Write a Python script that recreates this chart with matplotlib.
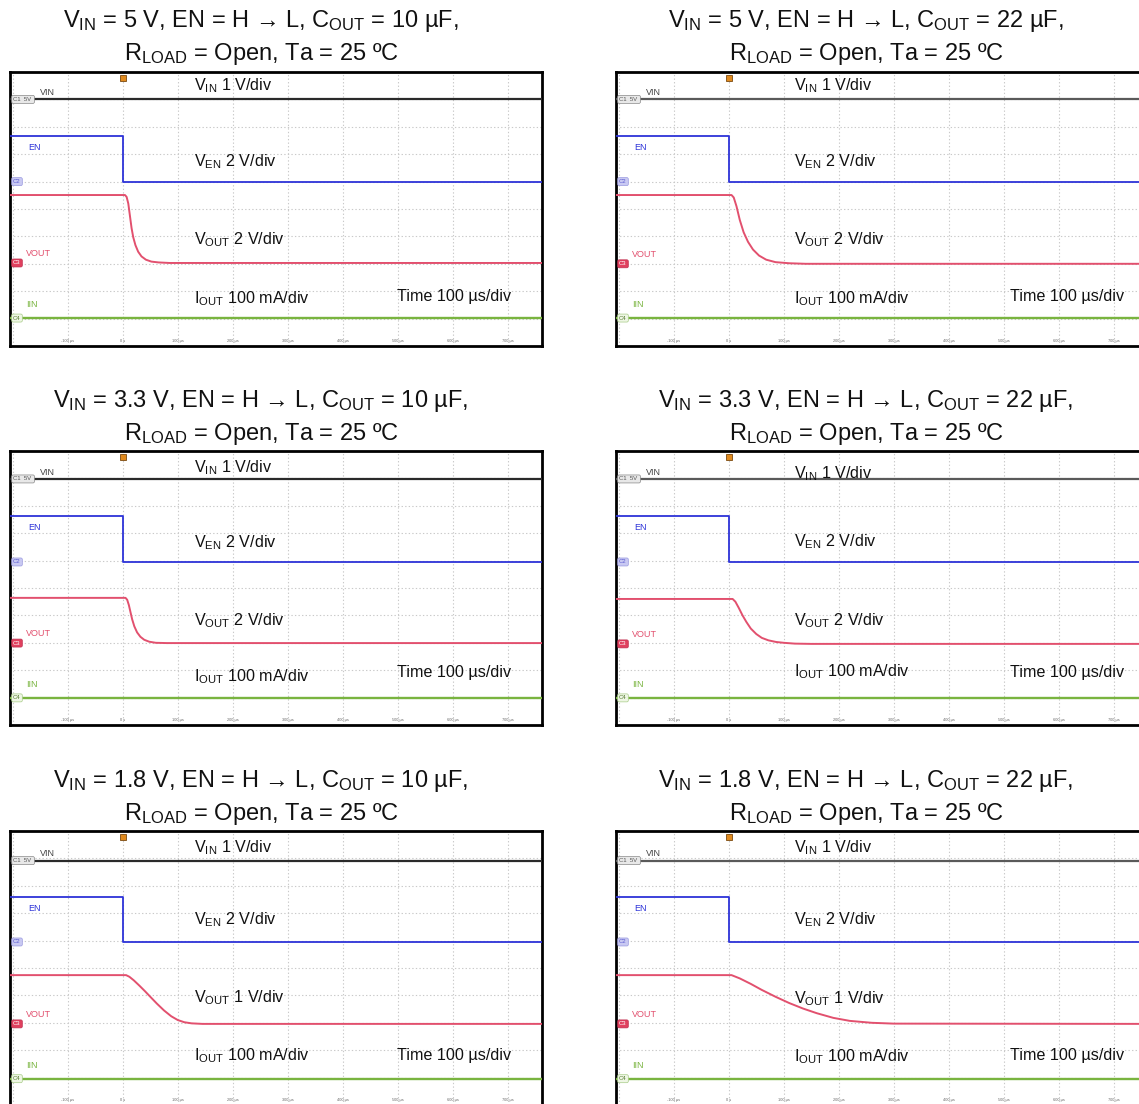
import matplotlib
matplotlib.use("Agg")
import matplotlib.pyplot as plt
import numpy as np

plt.rcParams['font.family'] = ['Liberation Sans', 'DejaVu Sans']
plt.rcParams['mathtext.fontset'] = 'custom'
plt.rcParams['mathtext.rm'] = 'Liberation Sans'
plt.rcParams['mathtext.it'] = 'Liberation Sans'

# ---------------- data (time in µs, level in scope divisions) ----------------
vin_labels = ["5 V", "3.3 V", "1.8 V"]
cout_labels = ["10 µF", "22 µF"]
vout_scale = ["2 V/div", "2 V/div", "1 V/div"]

vin_level = [9.0, 8.98, 8.92]
en_high = [7.66, 7.63, 7.59]
en_low = [6.0, 5.95, 5.95]
iin_level = [1.02, 0.99, 0.96]

t_r1_10 = [-205, 4, 7, 10, 13, 16, 19, 23, 28, 34, 42, 52, 65, 85, 110, 765]
v_r1_10 = [5.51, 5.51, 5.44, 5.2, 4.75, 4.3, 3.97, 3.68, 3.44, 3.27, 3.15, 3.08, 3.05, 3.03, 3.03, 3.03]
t_r1_22 = [-205, 5, 9, 14, 20, 27, 35, 44, 55, 68, 85, 110, 140, 765]
v_r1_22 = [5.51, 5.51, 5.42, 5.1, 4.6, 4.15, 3.8, 3.52, 3.3, 3.15, 3.06, 3.02, 3.0, 3.0]
t_r2_10 = [-205, 5, 8, 11, 14, 17, 21, 26, 32, 39, 48, 60, 80, 765]
v_r2_10 = [4.64, 4.64, 4.57, 4.38, 4.12, 3.86, 3.6, 3.38, 3.22, 3.11, 3.04, 3.0, 2.99, 2.99]
t_r2_22 = [-205, 7, 12, 18, 25, 32, 40, 50, 60, 72, 86, 100, 120, 150, 765]
v_r2_22 = [4.60, 4.60, 4.5, 4.28, 4.0, 3.76, 3.52, 3.32, 3.18, 3.09, 3.03, 3.0, 2.97, 2.96, 2.96]
t_r3_10 = [-205, 6, 12, 20, 30, 40, 50, 62, 75, 88, 100, 112, 125, 145, 170, 765]
v_r3_10 = [4.74, 4.74, 4.68, 4.55, 4.36, 4.16, 3.95, 3.7, 3.45, 3.24, 3.1, 3.02, 2.98, 2.96, 2.96, 2.96]
t_r3_22 = [-205, 5, 20, 40, 60, 85, 110, 135, 160, 190, 220, 260, 300, 765]
v_r3_22 = [4.74, 4.74, 4.62, 4.42, 4.2, 3.95, 3.72, 3.52, 3.35, 3.18, 3.07, 3.0, 2.97, 2.96]

vout_t = [[t_r1_10, t_r1_22], [t_r2_10, t_r2_22], [t_r3_10, t_r3_22]]
vout_v = [[v_r1_10, v_r1_22], [v_r2_10, v_r2_22], [v_r3_10, v_r3_22]]

time_ticks = [-100, 0, 100, 200, 300, 400, 500, 600, 700]
time_tick_labels = ["-100 µs", "0 s", "100 µs", "200 µs", "300 µs", "400 µs", "500 µs", "600 µs", "700 µs"]

T_START, T_END = -205, 762

# ---------------- layout ----------------
W, H = 1139, 1104
fig = plt.figure(figsize=(W / 100, H / 100), dpi=100)
fig.patch.set_facecolor('white')

col_left = [10, 616]
row_top = [72, 451, 831]
pw, ph = 532, 274
title_cx = [261, 866]
title_y = [(21, 54), (401, 434), (781, 814)]

# text label vertical positions (axes fraction) per row / column
lbl_vin_y = [[0.949, 0.949], [0.938, 0.916], [0.938, 0.938]]
lbl_ven_y = [[0.672, 0.672], [0.664, 0.668], [0.675, 0.675]]
lbl_vout_y = [[0.387, 0.387], [0.380, 0.380], [0.390, 0.387]]
lbl_iout_y = [[0.172, 0.172], [0.175, 0.193], [0.179, 0.175]]
lbl_time_y = [[0.182, 0.182], [0.190, 0.193], [0.182, 0.182]]
lbl_x = [0.346, 0.335]
time_x = [0.727, 0.741]

C_VIN = ['#2a2a2a', '#5a5a5a']
C_EN = '#2d33d8'
C_OUT = '#e2506e'
C_IIN = '#79b43f'

for r in range(3):
    for c in range(2):
        x0 = col_left[c]
        y0 = row_top[r]
        ax = fig.add_axes([x0 / W, 1 - (y0 + ph) / H, pw / W, ph / H])
        ax.set_xlim(T_START, T_END)
        ax.set_ylim(0, 10)
        ax.set_xticks(np.arange(-200, 800, 100))
        ax.set_yticks(np.arange(0, 11, 1))
        ax.tick_params(length=0, labelbottom=False, labelleft=False)
        ax.grid(True, color='#c9c9c9', linestyle=(0, (1.2, 2.0)), linewidth=0.8)
        for s in ax.spines.values():
            s.set_linewidth(2.0)
            s.set_color('black')

        # traces
        ax.plot([T_START, T_END], [vin_level[r], vin_level[r]], color=C_VIN[c], lw=1.6, zorder=3)
        ax.plot([T_START, 0, 0, T_END], [en_high[r], en_high[r], en_low[r], en_low[r]],
                color=C_EN, lw=1.3, zorder=3)
        ax.plot(vout_t[r][c], vout_v[r][c], color=C_OUT, lw=1.4, zorder=3)
        ax.plot([T_START, T_END], [iin_level[r], iin_level[r]], color=C_IIN, lw=1.7, zorder=3)

        # trigger marker
        ax.plot([0], [9.78], marker='s', ms=4.5, color='#e08a1e', mec='#7a4a10', mew=0.6,
                clip_on=False, zorder=5)

        # channel tags
        tag_kw = dict(fontsize=4.3, va='center', ha='left', zorder=6)
        ax.text(0.006, vin_level[r] / 10, "C1  5V ", color='#555555',
                transform=ax.transAxes,
                bbox=dict(boxstyle='round,pad=0.25', fc='#e8e8e8', ec='#888888', lw=0.5), **tag_kw)
        ax.text(0.006, en_low[r] / 10, "C2", color='#5a5ad0', transform=ax.transAxes,
                bbox=dict(boxstyle='round,pad=0.25', fc='#c9c9f2', ec='#9a9ae0', lw=0.5), **tag_kw)
        ax.text(0.006, vout_v[r][c][-1] / 10, "C3", color='white', transform=ax.transAxes,
                bbox=dict(boxstyle='round,pad=0.25', fc='#e0405e', ec='#c03050', lw=0.5), **tag_kw)
        ax.text(0.006, iin_level[r] / 10, "C4", color='#557a30', transform=ax.transAxes,
                bbox=dict(boxstyle='round,pad=0.25', fc='#eef6e4', ec='#a8cc88', lw=0.5), **tag_kw)

        # channel names
        nkw = dict(fontsize=6.5, ha='left', va='center', transform=ax.transAxes, zorder=6)
        ax.text(0.056, vin_level[r] / 10 + 0.025, "VIN", color='#444444', **nkw)
        ax.text(0.034, en_high[r] / 10 - 0.042, "EN", color=C_EN, **nkw)
        ax.text(0.030, vout_v[r][c][-1] / 10 + 0.034, "VOUT", color=C_OUT, **nkw)
        ax.text(0.030, iin_level[r] / 10 + 0.048, "IIN", color=C_IIN, **nkw)

        # time tick labels
        for tt, tl in zip(time_ticks, time_tick_labels):
            ax.text(tt, 0.12, tl, fontsize=2.8, color='#666666', ha='center', va='bottom', zorder=6)

        # annotations
        akw = dict(fontsize=11.6, ha='left', va='center', transform=ax.transAxes, zorder=7, color='#111111')
        ax.text(lbl_x[c], lbl_vin_y[r][c], r"V$_{\mathrm{IN}}$ 1 V/div", **akw)
        ax.text(lbl_x[c], lbl_ven_y[r][c], r"V$_{\mathrm{EN}}$ 2 V/div", **akw)
        ax.text(lbl_x[c], lbl_vout_y[r][c], r"V$_{\mathrm{OUT}}$ " + vout_scale[r], **akw)
        ax.text(lbl_x[c], lbl_iout_y[r][c], r"I$_{\mathrm{OUT}}$ 100 mA/div", **akw)
        ax.text(time_x[c], lbl_time_y[r][c], "Time 100 µs/div", **akw)

        # titles
        l1 = (r"V$_{\mathrm{IN}}$ = " + vin_labels[r] + r", EN = H → L, C$_{\mathrm{OUT}}$ = "
              + cout_labels[c] + ",")
        l2 = r"R$_{\mathrm{LOAD}}$ = Open, Ta = 25 ºC"
        fig.text(title_cx[c] / W, 1 - title_y[r][0] / H, l1, fontsize=17, ha='center', va='center',
                 color='#111111')
        fig.text(title_cx[c] / W, 1 - title_y[r][1] / H, l2, fontsize=17, ha='center', va='center',
                 color='#111111')

fig.savefig("out.png", dpi=100, facecolor='white')
